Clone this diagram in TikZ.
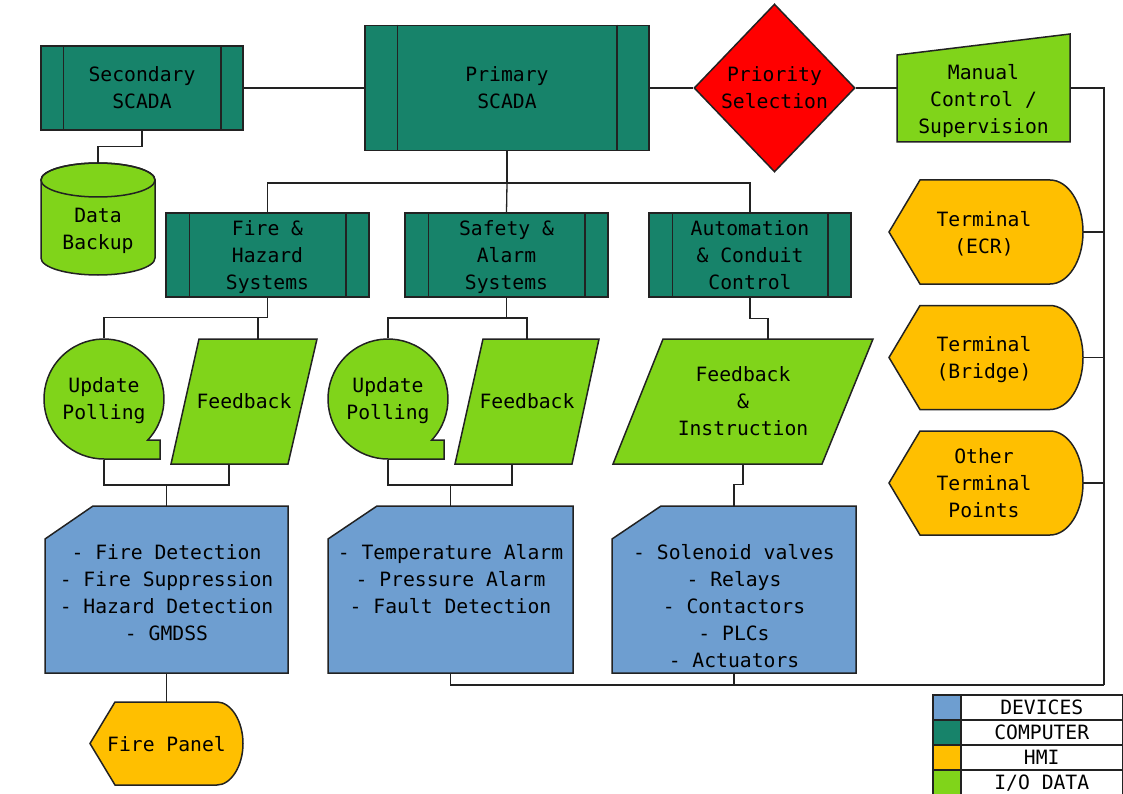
\documentclass[tikz,border=0pt]{standalone}
\usepackage{fontspec}
\setmainfont{DejaVu Sans Mono}
\usetikzlibrary{shapes.geometric}
\definecolor{comp}{HTML}{17836A}
\definecolor{iog}{HTML}{80D41A}
\definecolor{hmi}{HTML}{FFBF00}
\definecolor{devc}{HTML}{6E9ED0}
\definecolor{linec}{HTML}{222222}
\begin{document}
\begin{tikzpicture}[x=1pt,y=-1pt,
  txt/.style={font=\fontsize{19.7}{27}\selectfont, align=center, inner sep=0pt, text=black, text depth=0pt},
  shp/.style={draw=linec, line width=1.5pt, line join=miter},
  conn/.style={draw=linec, line width=1.3pt},
  compbox/.style={txt, shp, fill=comp, rectangle, minimum height=84},
  iofill/.style={shp, fill=iog},
  hmifill/.style={shp, fill=hmi},
  devfill/.style={shp, fill=devc},
  boxnode/.style={inner sep=0pt},
]
\useasboundingbox (0,0) rectangle (1123,794);

% ---------- computer boxes ----------
\node[compbox, minimum width=202] (sec) at (142,88) {Secondary\\SCADA};
\node[compbox, minimum width=284, minimum height=125] (pri) at (507,88) {Primary\\SCADA};
\node[compbox, minimum width=203] (fh) at (267.5,255) {Fire \&\\Hazard\\Systems};
\node[compbox, minimum width=203] (sa) at (506.5,255) {Safety \&\\Alarm\\Systems};
\node[compbox, minimum width=202] (ac) at (750,255) {Automation\\\& Conduit\\Control};
\foreach \n/\d in {sec/23, pri/33, fh/24, sa/24, ac/24}{
  \draw[shp] ([xshift=\d]\n.north west) -- ([xshift=\d]\n.south west);
  \draw[shp] ([xshift=-\d]\n.north east) -- ([xshift=-\d]\n.south east);
}

% ---------- priority diamond ----------
\node[txt, shp, diamond, fill=red, minimum width=161, minimum height=168] (prio) at (774.5,88) {Priority\\Selection};

% ---------- manual control ----------
\draw[iofill] (897,55) -- (1070,34) -- (1070,142) -- (897,142) -- cycle;
\node[txt, minimum width=173] (man) at (983.5,98.5) {Manual\\Control /\\Supervision};

% ---------- data backup ----------
\draw[iofill] (41,180) -- (41,258) arc[start angle=180, end angle=0, x radius=57, y radius=17]
   -- (155,180) arc[start angle=0, end angle=-180, x radius=57, y radius=17] -- cycle;
\draw[shp] (98,180) ellipse [x radius=57, y radius=17];
\node[txt] (db) at (98,229) {Data\\Backup};
\coordinate (dbtop) at (98,163);

% ---------- update polling ----------
\draw[iofill] (147.8,440) arc[start angle=43.1, end angle=-270, radius=60] -- (160,459) -- (160,440) -- cycle;
\draw[iofill] (431.8,440) arc[start angle=43.1, end angle=-270, radius=60] -- (444,459) -- (444,440) -- cycle;
\node[txt, minimum width=118, minimum height=122] (up1) at (104,399) {Update\\Polling};
\node[txt, minimum width=118, minimum height=122] (up2) at (388,399) {Update\\Polling};

% ---------- feedback ----------
\draw[iofill] (199,339) -- (317,339) -- (288,464) -- (171,464) -- cycle;
\draw[iofill] (483,339) -- (599,339) -- (572,464) -- (455,464) -- cycle;
\draw[iofill] (663,339) -- (873,339) -- (822,464) -- (613,464) -- cycle;
\node[txt, minimum width=146, minimum height=125] (fb1) at (244,401.5) {Feedback};
\node[txt, minimum width=144, minimum height=125] (fb2) at (527,401.5) {Feedback};
\node[txt, minimum width=260, minimum height=125] (fb3) at (743,401.5) {Feedback\\\&\\Instruction};

% ---------- devices ----------
\draw[devfill] (45,539) -- (93,506) -- (288,506) -- (288,673) -- (45,673) -- cycle;
\draw[devfill] (328,539) -- (377,506) -- (573,506) -- (573,673) -- (328,673) -- cycle;
\draw[devfill] (612,539) -- (661,506) -- (856,506) -- (856,673) -- (612,673) -- cycle;
\node[boxnode, minimum width=243, minimum height=167] (dev1) at (166.5,589.5) {};
\node[boxnode, minimum width=245, minimum height=167] (dev2) at (450.5,589.5) {};
\node[boxnode, minimum width=244, minimum height=167] (dev3) at (734,589.5) {};
\node[txt, anchor=north] (dev1t) at (166.5,544) {- Fire Detection\\- Fire Suppression\\- Hazard Detection\\- GMDSS};
\node[txt, anchor=north] (dev2t) at (450.5,544) {- Temperature Alarm\\- Pressure Alarm\\- Fault Detection};
\node[txt, anchor=north] (dev3t) at (734,544) {- Solenoid valves\\- Relays\\- Contactors\\- PLCs\\- Actuators};

% ---------- HMI terminals ----------
\foreach \c in {232,357.5,483}{
  \draw[hmifill] (889,\c) -- (920,\c-52) -- (1050,\c-52)
    .. controls (1068,\c-52) and (1083,\c-29) .. (1083,\c)
    .. controls (1083,\c+29) and (1068,\c+52) .. (1050,\c+52) -- (920,\c+52) -- cycle;
}
\node[txt, minimum width=198, minimum height=104] (t1) at (984,232) {Terminal\\(ECR)};
\node[txt, minimum width=198, minimum height=104] (t2) at (984,357.5) {Terminal\\(Bridge)};
\node[txt, minimum width=198, minimum height=104] (t3) at (984,483) {Other\\Terminal\\Points};

% ---------- fire panel ----------
\draw[hmifill] (90,743.5) -- (115,702) -- (217,702)
  .. controls (231,702) and (243,721) .. (243,743.5)
  .. controls (243,766) and (231,785) .. (217,785) -- (115,785) -- cycle;
\node[txt, minimum width=153, minimum height=83] (fp) at (166.5,743.5) {Fire Panel};

% ---------- connectors ----------
\coordinate (busT) at (1104,88);
\coordinate (busB) at (1104,685);
\draw[conn] (sec.east) -- (pri.west);
\draw[conn] (pri.east) -- (prio.west);
\draw[conn] (prio.east) -- (prio.east -| man.west);
\draw[conn] (prio.east -| man.east) -- (busT) -- (busB);
\foreach \t in {t1,t2,t3}{ \draw[conn] (\t.east) -- (\t.east -| busT); }
\draw[conn] (busB) -- (busB -| dev2.south) -- (dev2.south);
\draw[conn] (dev3.south) -- (dev3.south |- busB);
\draw[conn] (sec.south) -- ++(0,16) -| (dbtop);

\coordinate (hub) at (507,183);
\draw[conn] (pri.south) -- (hub);
\draw[conn] (fh.north) |- (hub) -| (ac.north);
\draw[conn] (hub) -- (sa.north);

% fire column
\coordinate (f1) at (267.5,317.5);
\draw[conn] (fh.south) -- (f1) -| (up1.north);
\draw[conn] ([xshift=14]fb1.north) -- ([xshift=14]fb1.north |- f1);
\coordinate (f2) at (166.5,485);
\draw[conn] (up1.south) |- (f2) -| ([xshift=-15]fb1.south);
\draw[conn] (f2) -- (dev1.north);
\draw[conn] (dev1.south) -- (fp.north);

% safety column
\coordinate (s1) at (506.5,318);
\draw[conn] (sa.south) -- (s1);
\draw[conn] (up2.north) |- (fb2.north |- s1) -- (fb2.north);
\coordinate (s2) at (450.5,485);
\draw[conn] (up2.south) |- (s2) -| ([xshift=-15]fb2.south);
\draw[conn] (s2) -- (dev2.north);

% automation column
\draw[conn] (ac.south) -- ++(0,21) -| ([xshift=25]fb3.north);
\draw[conn] (fb3.south) -- ++(0,20) -| (dev3.north);

% ---------- legend ----------
\node[shp, fill=devc, boxnode, minimum width=28, minimum height=25, anchor=north west] (lg1) at (932,694) {};
\node[txt, shp, fill=white, minimum width=162, minimum height=25, anchor=north west] (lg1t) at (960,694) {DEVICES};
\node[shp, fill=comp, boxnode, minimum width=28, minimum height=25, anchor=north west] (lg2) at (932,719) {};
\node[txt, shp, fill=white, minimum width=162, minimum height=25, anchor=north west] (lg2t) at (960,719) {COMPUTER};
\node[shp, fill=hmi, boxnode, minimum width=28, minimum height=25, anchor=north west] (lg3) at (932,744) {};
\node[txt, shp, fill=white, minimum width=162, minimum height=25, anchor=north west] (lg3t) at (960,744) {HMI};
\node[shp, fill=iog, boxnode, minimum width=28, minimum height=25, anchor=north west] (lg4) at (932,769) {};
\node[txt, shp, fill=white, minimum width=162, minimum height=25, anchor=north west] (lg4t) at (960,769) {I/O DATA};
\end{tikzpicture}
\end{document}
